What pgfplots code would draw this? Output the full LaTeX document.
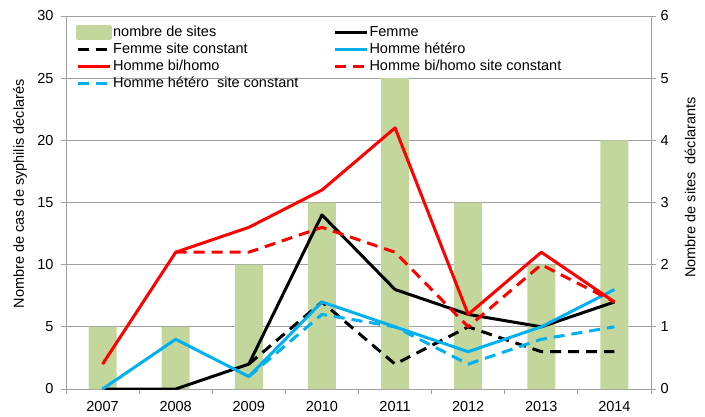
\documentclass[border=0pt]{standalone}
\usepackage{fontspec}
\setmainfont{Liberation Sans}
\usepackage{pgfplots}
\pgfplotsset{compat=1.18}
\definecolor{barg}{HTML}{C3D69B}
\definecolor{cblue}{HTML}{00B0F0}
\definecolor{cred}{HTML}{FF0000}
\definecolor{gridc}{HTML}{A0A0A0}
\begin{document}
\begin{tikzpicture}[x=1pt,y=1pt]
\useasboundingbox (0,0) rectangle (705,416);
\pgfplotsset{every axis/.append style={scale only axis, width=585pt, height=373pt,
  at={(66pt,27pt)}, anchor=south west, xmin=-0.5, xmax=7.5,
  font=\fontsize{14.5pt}{16pt}\selectfont,
  /pgf/number format/assume math mode=true}}
% axis 1: bars, frame, grid, ticks, right axis
\begin{axis}[
  ymin=0, ymax=6, ytick={0,...,6},
  ytick pos=both, yticklabel pos=right,
  xtick={-0.5,0.5,...,7.5}, xticklabels={}, xtick pos=bottom,
  tick align=outside, major tick length=5pt,
  tick style={gridc, line width=0.8pt},
  axis line style={gridc, line width=0.8pt},
  ymajorgrids, grid style={gridc, line width=0.8pt},
  yticklabel style={xshift=1pt},
  ylabel={Nombre de sites\ \ déclarants},
  ylabel style={at={(axis description cs:1.0667,0.54)}, anchor=center},
]
\addplot[ybar, bar width=28pt, fill=barg, draw=none] coordinates {
  (0,1) (1,1) (2,2) (3,3) (4,5) (5,3) (6,2) (7,4)};
\end{axis}
% axis 2: lines, left axis
\begin{axis}[
  ymin=0, ymax=30, ytick={0,5,...,30},
  ytick pos=left, xtick pos=bottom,
  xtick={0,...,7}, xticklabels={2007,2008,2009,2010,2011,2012,2013,2014},
  major tick length=0pt, axis line style={draw=none},
  yticklabel style={xshift=-9pt},
  xticklabel style={yshift=-9pt},
  ylabel={Nombre de cas de syphilis déclarés},
  ylabel style={at={(axis description cs:-0.0786,0.523)}, anchor=center},
  legend columns=2,
  legend style={at={(axis description cs:0.017,0.976)}, anchor=north west,
    draw=none, fill=none, inner sep=0pt, row sep=2pt,
    nodes={inner sep=1pt, text height=10pt, text depth=3pt},
    /tikz/every even column/.append style={column sep=34pt},
    font=\fontsize{14.5pt}{16pt}\selectfont},
  legend cell align=left,
  legend image code/.code={\draw[#1] (0pt,0pt) -- (32pt,0pt);},
  every axis plot/.append style={line width=3pt, line join=round},
]
\addlegendimage{legend image code/.code={\fill[barg] (0pt,-5.5pt) rectangle (33pt,6pt);}}
\addlegendentry{nombre de sites}
\addplot[black] coordinates {(0,0)(1,0)(2,2)(3,14)(4,8)(5,6)(6,5)(7,7)};
\addlegendentry{Femme}
\addplot[black, dash pattern=on 11pt off 7pt] coordinates {(2,2)(3,7)(4,2)(5,5)(6,3)(7,3)};
\addlegendentry{Femme site constant}
\addplot[cblue] coordinates {(0,0)(1,4)(2,1)(3,7)(4,5)(5,3)(6,5)(7,8)};
\addlegendentry{Homme hétéro}
\addplot[cred] coordinates {(0,2)(1,11)(2,13)(3,16)(4,21)(5,6)(6,11)(7,7)};
\addlegendentry{Homme bi/homo}
\addplot[cred, dash pattern=on 11pt off 7pt] coordinates {(1,11)(2,11)(3,13)(4,11)(5,5)(6,10)(7,7)};
\addlegendentry{Homme bi/homo site constant}
\addplot[cblue, dash pattern=on 11pt off 7pt] coordinates {(2,1)(3,6)(4,5)(5,2)(6,4)(7,5)};
\addlegendentry{Homme hétéro\ \ site constant}
\end{axis}
\end{tikzpicture}
\end{document}
